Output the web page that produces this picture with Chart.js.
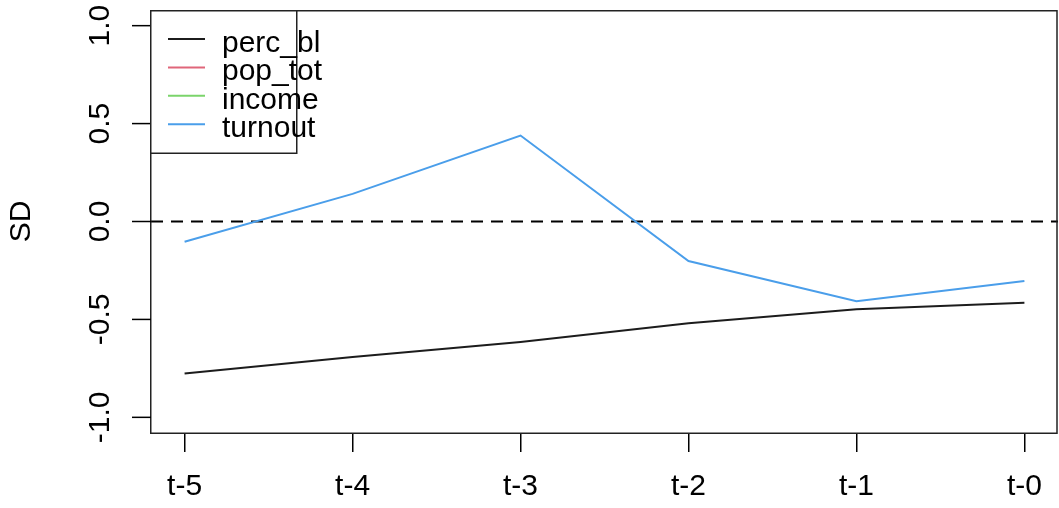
<!DOCTYPE html>
<html>
<head>
<meta charset="utf-8">
<script src="https://cdn.jsdelivr.net/npm/chart.js@4/dist/chart.umd.min.js"></script>
<style>
html,body{margin:0;padding:0;background:#ffffff;}
canvas{display:block;}
</style>
</head>
<body>
<canvas id="c" width="1059" height="508"></canvas>
<script>
// ---- data ----
const categories = ['t-5', 't-4', 't-3', 't-2', 't-1', 't-0'];
const seriesNames = ['perc_bl', 'pop_tot', 'income', 'turnout'];
const perc_bl = [-0.776, -0.692, -0.615, -0.519, -0.448, -0.415];
const pop_tot = [null, null, null, null, null, null];
const income  = [null, null, null, null, null, null];
const turnout = [-0.103, 0.141, 0.439, -0.202, -0.407, -0.304];
const yTickValues = [-1.0, -0.5, 0.0, 0.5, 1.0];
const yTickLabels = ['-1.0', '-0.5', '0.0', '0.5', '1.0'];
const yAxisTitle = 'SD';
const refLineValue = 0;

// ---- build ----
const FONT = "'Liberation Sans', Arial, Helvetica, sans-serif";
const seriesData = [perc_bl, pop_tot, income, turnout];
const seriesColors = ['#1c1c1c', '#e0667a', '#7bd46b', '#4a9eea'];

const datasets = seriesNames.map((name, i) => ({
  label: name,
  data: seriesData[i].map((v, j) => ({x: j + 1, y: v})),
  borderColor: seriesColors[i],
  backgroundColor: seriesColors[i],
  borderWidth: 2,
  pointRadius: 0,
  pointHoverRadius: 0,
  tension: 0,
  fill: false,
  spanGaps: false
}));

const rPlot = {
  id: 'rPlot',
  beforeDatasetsDraw(chart) {
    const {ctx, chartArea: ca, scales: {y}} = chart;
    ctx.save();
    ctx.beginPath();
    ctx.rect(ca.left, ca.top, ca.right - ca.left, ca.bottom - ca.top);
    ctx.clip();
    const y0 = y.getPixelForValue(refLineValue);
    ctx.setLineDash([12, 8]);
    ctx.lineWidth = 2;
    ctx.strokeStyle = '#000';
    ctx.beginPath();
    ctx.moveTo(ca.left, y0);
    ctx.lineTo(ca.right, y0);
    ctx.stroke();
    ctx.restore();
  },
  afterDatasetsDraw(chart) {
    const {ctx, chartArea: ca, scales: {y}} = chart;
    ctx.save();
    // plot box
    ctx.setLineDash([]);
    ctx.lineWidth = 1.5;
    ctx.strokeStyle = '#222';
    ctx.strokeRect(ca.left - 0.25, ca.top + 0.75, ca.right - ca.left - 0.75, ca.bottom - ca.top - 0.5);

    // y axis ticks + rotated labels
    ctx.strokeStyle = '#000';
    ctx.lineWidth = 1.5;
    ctx.fillStyle = '#000';
    ctx.font = '30px ' + FONT;
    yTickValues.forEach((v, i) => {
      const py = y.getPixelForValue(v);
      ctx.beginPath();
      ctx.moveTo(ca.left - 19, py);
      ctx.lineTo(ca.left, py);
      ctx.stroke();
      ctx.save();
      ctx.translate(108.5, py);
      ctx.rotate(-Math.PI / 2);
      ctx.textAlign = 'center';
      ctx.textBaseline = 'alphabetic';
      ctx.fillText(yTickLabels[i], 0, 0);
      ctx.restore();
    });

    // legend
    const lx = ca.left, ly = ca.top;
    ctx.fillStyle = '#fff';
    ctx.fillRect(lx, ly + 1, 146, 142);
    ctx.lineWidth = 1.5;
    ctx.strokeStyle = '#222';
    ctx.strokeRect(lx - 0.25, ly + 0.75, 146, 142.5);
    chart.data.datasets.forEach((ds, i) => {
      const ry = 39 + 28.43 * i;
      ctx.strokeStyle = ds.borderColor;
      ctx.lineWidth = 2;
      ctx.beginPath();
      ctx.moveTo(168, ry);
      ctx.lineTo(205, ry);
      ctx.stroke();
      ctx.fillStyle = '#000';
      ctx.textAlign = 'left';
      ctx.textBaseline = 'alphabetic';
      ctx.fillText(ds.label, 222, ry + 12.7);
    });
    ctx.restore();
  }
};

new Chart(document.getElementById('c'), {
  type: 'line',
  data: {datasets},
  options: {
    responsive: false,
    animation: false,
    devicePixelRatio: 1,
    layout: {padding: {top: 10, right: 1, left: 0, bottom: 0}},
    plugins: {
      legend: {display: false},
      tooltip: {enabled: false},
      title: {display: false}
    },
    scales: {
      x: {
        type: 'linear',
        min: 0.8,
        max: 6.2,
        afterBuildTicks: (s) => { s.ticks = categories.map((c, i) => ({value: i + 1})); },
        afterFit: (s) => { s.height = 75; },
        grid: {display: true, drawOnChartArea: false, drawTicks: true, tickLength: 19, color: '#000', lineWidth: 1.5},
        border: {display: false},
        ticks: {
          autoSkip: false,
          maxRotation: 0,
          minRotation: 0,
          padding: 17,
          color: '#000',
          font: {family: FONT, size: 30},
          callback: (v) => categories[Math.round(v) - 1]
        }
      },
      y: {
        type: 'linear',
        min: -1.08,
        max: 1.08,
        afterBuildTicks: (s) => { s.ticks = yTickValues.map(v => ({value: v})); },
        afterFit: (s) => { s.width = 151; },
        grid: {display: false},
        border: {display: false},
        ticks: {display: false},
        title: {
          display: true,
          text: yAxisTitle,
          color: '#000',
          font: {family: FONT, size: 30},
          padding: {top: 4, bottom: 0}
        }
      }
    }
  },
  plugins: [rPlot]
});
</script>
</body>
</html>
